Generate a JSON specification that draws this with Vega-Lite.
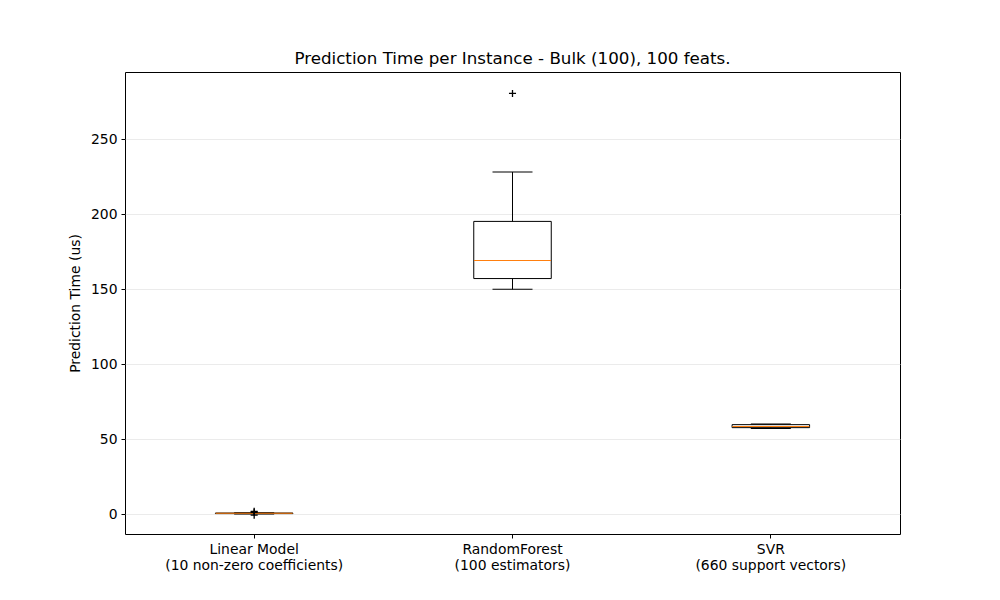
{
  "$schema": "https://vega.github.io/schema/vega-lite/v6.json",
  "autosize": "none",
  "width": 775,
  "height": 462,
  "padding": {"left": 125, "top": 72, "right": 100, "bottom": 66},
  "background": "white",
  "title": {"text": "Prediction Time per Instance - Bulk (100), 100 feats.", "font": "DejaVu Sans", "fontSize": 16.7, "fontWeight": "normal", "color": "black", "offset": 4},
  "config": {
    "view": {"stroke": "black", "strokeWidth": 1},
    "axis": {"labelFont": "DejaVu Sans", "titleFont": "DejaVu Sans", "labelFontSize": 13.9, "titleFontSize": 13.9, "labelColor": "black", "titleColor": "black", "titleFontWeight": "normal", "tickColor": "black", "tickSize": 4, "domain": false}
  },
  "datasets": {
    "boxes": [
      {"model": "Linear Model\n(10 non-zero coefficients)", "lower": 0.1, "q1": 0.3, "median": 0.5, "q3": 0.7, "upper": 0.9},
      {"model": "RandomForest\n(100 estimators)", "lower": 149.8, "q1": 157, "median": 169.1, "q3": 195.1, "upper": 228},
      {"model": "SVR\n(660 support vectors)", "lower": 57, "q1": 57.6, "median": 58.3, "q3": 59.6, "upper": 60}
    ],
    "outliers": [
      {"model": "Linear Model\n(10 non-zero coefficients)", "value": 1.8},
      {"model": "Linear Model\n(10 non-zero coefficients)", "value": 1.2},
      {"model": "Linear Model\n(10 non-zero coefficients)", "value": -0.7},
      {"model": "RandomForest\n(100 estimators)", "value": 280.4}
    ]
  },
  "encoding": {
    "x": {"field": "model", "type": "nominal", "sort": null,
      "scale": {"paddingInner": 0, "paddingOuter": 0, "domain": ["Linear Model\n(10 non-zero coefficients)", "RandomForest\n(100 estimators)", "SVR\n(660 support vectors)"]},
      "axis": {"title": null, "labelAngle": 0, "labelExpr": "split(datum.label, '\\n')", "labelPadding": 4, "grid": false, "labelLineHeight": 16}}
  },
  "layer": [
    {
      "data": {"name": "boxes"},
      "mark": {"type": "rule", "color": "black", "strokeWidth": 1},
      "encoding": {
        "y": {"field": "lower", "type": "quantitative",
          "scale": {"domain": [-13.3, 294.7], "nice": false, "zero": false},
          "axis": {"title": "Prediction Time (us)", "values": [0, 50, 100, 150, 200, 250], "grid": true, "gridColor": "#e6e6e6", "gridWidth": 0.8, "titlePadding": 8, "labelPadding": 4}},
        "y2": {"field": "q1"}
      }
    },
    {
      "data": {"name": "boxes"},
      "mark": {"type": "rule", "color": "black", "strokeWidth": 1},
      "encoding": {
        "y": {"field": "q3", "type": "quantitative"},
        "y2": {"field": "upper"}
      }
    },
    {
      "data": {"name": "boxes"},
      "mark": {"type": "bar", "fill": null, "fillOpacity": 0, "stroke": "black", "strokeWidth": 1, "width": {"band": 0.3}},
      "encoding": {
        "y": {"field": "q1", "type": "quantitative"},
        "y2": {"field": "q3"}
      }
    },
    {
      "data": {"name": "boxes"},
      "mark": {"type": "tick", "color": "black", "size": 40, "thickness": 1, "opacity": 1},
      "encoding": {"y": {"field": "lower", "type": "quantitative"}}
    },
    {
      "data": {"name": "boxes"},
      "mark": {"type": "tick", "color": "black", "size": 40, "thickness": 1, "opacity": 1},
      "encoding": {"y": {"field": "upper", "type": "quantitative"}}
    },
    {
      "data": {"name": "boxes"},
      "mark": {"type": "tick", "color": "#ff7f0e", "size": 77, "thickness": 1, "opacity": 1},
      "encoding": {"y": {"field": "median", "type": "quantitative"}}
    },
    {
      "data": {"name": "outliers"},
      "mark": {"type": "point", "shape": "M-1,0L1,0M0,-1L0,1", "size": 50, "stroke": "black", "strokeWidth": 1.3, "filled": false, "opacity": 1},
      "encoding": {"y": {"field": "value", "type": "quantitative"}}
    }
  ]
}
